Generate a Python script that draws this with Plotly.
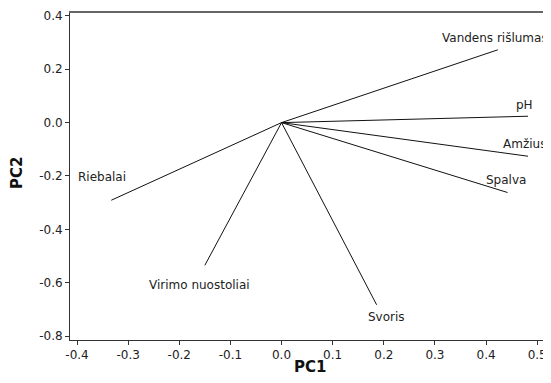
import plotly.graph_objects as go

variables = ["Vandens rišlumas", "pH", "Amžius", "Spalva", "Riebalai", "Virimo nuostoliai", "Svoris"]
pc1 = [0.423, 0.482, 0.482, 0.442, -0.333, -0.150, 0.186]
pc2 = [0.273, 0.024, -0.126, -0.262, -0.291, -0.535, -0.683]
label_x = [0.418, 0.475, 0.476, 0.439, -0.352, -0.161, 0.206]
label_y = [0.317, 0.065, -0.082, -0.215, -0.205, -0.608, -0.727]

xs, ys = [], []
for a, b in zip(pc1, pc2):
    xs += [0, a, None]
    ys += [0, b, None]

fig = go.Figure()
fig.add_trace(go.Scatter(x=xs, y=ys, mode="lines",
                         line=dict(color="#111111", width=1), hoverinfo="skip",
                         showlegend=False, cliponaxis=False))
# invisible trace on a top axis, only to draw the top frame line
fig.add_trace(go.Scatter(x=[0], y=[0], xaxis="x2", mode="markers",
                         marker=dict(opacity=0), hoverinfo="skip", showlegend=False))

font = "DejaVu Sans, Verdana, sans-serif"
for name, lx, ly in zip(variables, label_x, label_y):
    fig.add_annotation(x=lx, y=ly, text=name, showarrow=False,
                       xanchor="center", yanchor="middle",
                       font=dict(family=font, size=12, color="#222222"))

fig.add_annotation(xref="paper", yref="paper", x=0.499, y=-0.0826, text="<b>PC1</b>",
                   showarrow=False, xanchor="center", yanchor="middle",
                   font=dict(family=font, size=15, color="#111111"))
fig.add_annotation(xref="paper", yref="paper", x=-0.11, y=0.511, text="<b>PC2</b>",
                   showarrow=False, xanchor="center", yanchor="middle", textangle=-90,
                   font=dict(family=font, size=15, color="#111111"))

fig.update_layout(
    width=543, height=375,
    margin=dict(l=62, r=0, t=5, b=43),
    paper_bgcolor="white", plot_bgcolor="white",
    font=dict(family=font, size=12, color="#222222"),
    xaxis=dict(range=[-0.4137, 0.527], tickvals=[-0.4, -0.3, -0.2, -0.1, 0.0, 0.1, 0.2, 0.3, 0.4, 0.5],
               ticktext=["-0.4", "-0.3", "-0.2", "-0.1", "0.0", "0.1", "0.2", "0.3", "0.4", "0.5"],
               showgrid=False, zeroline=False, showline=True, linecolor="#333333", linewidth=1,
               ticks="outside", ticklen=4, tickcolor="#333333"),
    xaxis2=dict(overlaying="x", side="top", range=[-0.4137, 0.527], showgrid=False,
                zeroline=False, showline=True, linecolor="#666666", linewidth=2,
                showticklabels=False, ticks=""),
    yaxis=dict(range=[-0.815, 0.411], tickvals=[-0.8, -0.6, -0.4, -0.2, 0.0, 0.2, 0.4],
               ticktext=["-0.8", "-0.6", "-0.4", "-0.2", "0.0", "0.2", "0.4"],
               showgrid=False, zeroline=False, showline=True, linecolor="#333333", linewidth=1,
               ticks="outside", ticklen=4, tickcolor="#333333"),
)

fig.write_html("out.html")
